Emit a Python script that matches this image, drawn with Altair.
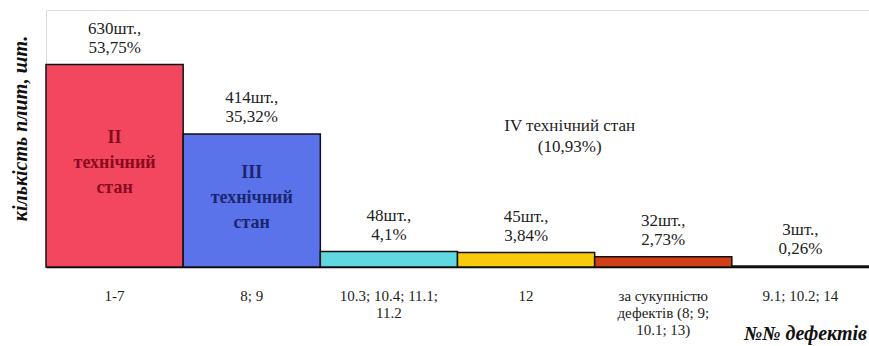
import altair as alt
import pandas as pd

categories = ["1-7", "8; 9", "10.3; 10.4; 11.1;\n11.2", "12",
              "за сукупністю\nдефектів (8; 9;\n10.1; 13)", "9.1; 10.2; 14"]
counts = [630, 414, 48, 45, 32, 3]
value_labels = ["630шт.,\n53,75%", "414шт.,\n35,32%", "48шт.,\n4,1%",
                "45шт.,\n3,84%", "32шт.,\n2,73%", "3шт.,\n0,26%"]
colors = ["#F2475E", "#5A73EA", "#5FD8E2", "#F7CB0B", "#D23E17", "#222222"]
inner_labels = ["II\nтехнічний\nстан", "III\nтехнічний\nстан", "", "", "", ""]
inner_colors = ["#8B0A1E", "#1A2670", "#000", "#000", "#000", "#000"]

df = pd.DataFrame({
    "cat": categories, "count": counts, "vlabel": value_labels,
    "color": colors, "inner": inner_labels, "icolor": inner_colors,
    "half": [c / 2 for c in counts],
})

SERIF = "Liberation Serif, Times New Roman, serif"

x = alt.X("cat:N", sort=categories,
          scale=alt.Scale(paddingInner=0, paddingOuter=0),
          axis=alt.Axis(title="№№ дефектів", titleFont=SERIF, titleFontSize=20,
                        titleFontStyle="italic", titleFontWeight="bold",
                        titleX=759, titleY=66, titleAlign="center",
                        titleBaseline="middle", titleColor="#111",
                        labelAngle=0, labelFont=SERIF, labelFontSize=15,
                        labelColor="#222", labelPadding=21, labelLimit=300,
                        labelLineHeight=17,
                        labelExpr="split(datum.label, '\\n')",
                        ticks=False, domain=True, domainColor="#000",
                        domainWidth=1.5))
y_scale = alt.Scale(domain=[0, 800])

base = alt.Chart(df)

bars = base.mark_bar(stroke="#111", strokeWidth=1.5).encode(
    x=x,
    y=alt.Y("count:Q", scale=y_scale,
            axis=alt.Axis(title="кількість плит, шт.", titleFont=SERIF,
                          titleFontSize=20, titleFontStyle="italic",
                          titleFontWeight="bold", titleColor="#111",
                          titleX=-26, titleY=118, titleAlign="center",
                          titleBaseline="middle", labels=False, ticks=False,
                          domain=False, grid=False)),
    color=alt.Color("color:N", scale=None),
)

vlab = base.mark_text(font=SERIF, fontSize=17, baseline="bottom", dy=-27,
                      lineBreak="\n", lineHeight=19, color="#222").encode(
    x=alt.X("cat:N", sort=categories),
    y=alt.Y("count:Q", scale=y_scale),
    text="vlabel:N",
)

inner = base.mark_text(font=SERIF, fontSize=18, fontWeight="bold",
                       baseline="middle", dy=-28, lineBreak="\n",
                       lineHeight=25).encode(
    x=alt.X("cat:N", sort=categories),
    y=alt.Y("half:Q", scale=y_scale),
    text="inner:N",
    color=alt.Color("icolor:N", scale=None),
)

group_note = alt.Chart(pd.DataFrame({"t": ["IV технічний стан\n(10,93%)"]})).mark_text(
    font=SERIF, fontSize=17, lineBreak="\n", lineHeight=21, color="#222",
    baseline="middle", dx=-25,
).encode(
    x=alt.X(datum="12", bandPosition=1),
    y=alt.Y(datum=440, scale=y_scale),
    text="t:N",
)

chart = alt.layer(bars, vlab, inner, group_note).properties(
    width=823, height=257,
    padding={"left": 46, "top": 10, "right": 0, "bottom": 79},
    autosize=alt.AutoSizeParams(type="none"),
    background="#ffffff",
).configure_view(stroke="#dddddd", strokeWidth=1)

chart.save("out.html", embed_options={"renderer": "svg", "actions": False})
